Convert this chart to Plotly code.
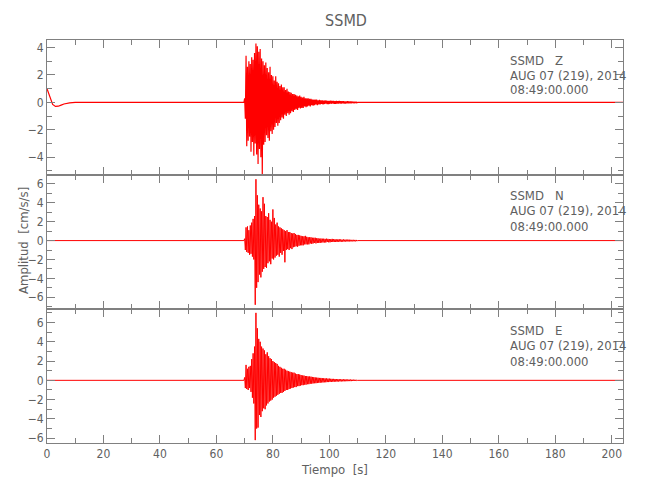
import plotly.graph_objects as go
from plotly.subplots import make_subplots

# ---------------- data ----------------
station = "SSMD"
components = ["Z", "N", "E"]
date_line = "AUG 07 (219), 2014"
time_line = "08:49:00.000"
x_title = "Tiempo  [s]"
y_title = "Amplitud  [cm/s/s]"

event_start = 70.0     # s, first sample of the strong-motion window
sample_dt = 0.25       # s, spacing of the read-off samples
record_end = 204.0     # s

# Z: slow transient at the beginning of the record
z_pre_t = [0, 0.5, 1, 1.5, 2, 3, 4, 5, 6, 8, 10, 69.75]
z_pre_v = [1.0, 0.7, 0.35, 0.05, -0.15, -0.3, -0.28, -0.2, -0.12, -0.04, 0.0, 0.0]

n_pre_t = [0, 69.75]
n_pre_v = [0.0, 0.0]
e_pre_t = [0, 69.75]
e_pre_v = [0.0, 0.0]

z_event = [
    0.3, -1.2, 3.4, -3.2, 2.6, -2.8, 3.0, -2.5,
    2.8, -3.6, 3.3, -2.9, 3.1, -3.9, 3.6, -3.0,
    4.3, -3.8, 4.1, -4.5, 3.7, -3.4, 3.9, -4.0,
    3.2, -5.3, 3.0, -3.1, 2.7, -2.9, 2.9, -2.4,
    2.5, -2.6, 2.2, -2.8, 2.6, -2.1, 2.0, -2.3,
    1.9, -2.0, 1.6, -1.8, 1.9, -1.5, 1.5, -1.7,
    1.4, -1.5, 1.2, -1.3, 1.3, -1.1, 1.1, -1.2,
    1.1, -0.9, 0.9, -1.0, 1.0, -0.8, 0.8, -0.9,
    0.75, -0.8, 0.7, -0.65, 0.6, -0.7, 0.6, -0.55,
    0.55, -0.5, 0.5, -0.55, 0.45, -0.4, 0.5, -0.45,
    0.4, -0.4, 0.35, -0.4, 0.4, -0.3, 0.3, -0.35,
    0.3, -0.3, 0.3, -0.25, 0.25, -0.3, 0.25, -0.2,
    0.2, -0.25, 0.2, -0.2, 0.2, -0.15, 0.2, -0.2,
    0.15, -0.15, 0.18, -0.15, 0.15, -0.12, 0.15, -0.15,
    0.12, -0.12, 0.15, -0.1, 0.12, -0.12, 0.1, -0.12,
    0.1, -0.1, 0.12, -0.1, 0.1, -0.08, 0.1, -0.1,
    0.08, -0.1, 0.1, -0.08, 0.08, -0.08, 0.1, -0.08,
    0.08, -0.08, 0.08, -0.06, 0.08, -0.08, 0.06, -0.08,
    0.06, -0.06, 0.08, -0.06, 0.06, -0.06, 0.06, -0.06,
    0.06, -0.05, 0.05, -0.06, 0.05, -0.05, 0.05, -0.04,
]

n_event = [
    0.2, -1.0, 1.4, -1.2, 1.5, -1.3, 1.1, -1.5,
    1.6, -1.4, 1.9, -1.7, 2.3, -2.0, 2.6, -6.8,
    6.5, -5.0, 4.8, -4.4, 3.8, -3.6, 3.4, -3.9,
    3.1, -3.3, 4.6, -3.0, 3.9, -2.8, 2.6, -2.9,
    2.5, -2.4, 2.9, -2.2, 2.2, -2.5, 2.0, -1.9,
    3.3, -2.0, 2.4, -1.8, 1.7, -1.6, 1.9, -1.5,
    1.5, -1.7, 1.4, -1.3, 1.3, -1.5, 1.2, -1.1,
    1.1, -2.3, 1.0, -1.0, 1.1, -0.9, 0.9, -1.0,
    0.9, -0.8, 0.8, -0.9, 0.75, -0.7, 0.8, -0.65,
    0.7, -0.6, 0.6, -0.65, 0.6, -0.55, 0.55, -0.5,
    0.5, -0.5, 0.45, -0.5, 0.45, -0.4, 0.5, -0.4,
    0.4, -0.4, 0.35, -0.4, 0.35, -0.3, 0.35, -0.35,
    0.3, -0.3, 0.3, -0.25, 0.3, -0.3, 0.25, -0.25,
    0.25, -0.25, 0.2, -0.25, 0.22, -0.2, 0.2, -0.2,
    0.2, -0.2, 0.18, -0.2, 0.2, -0.15, 0.18, -0.18,
    0.16, -0.18, 0.15, -0.15, 0.18, -0.15, 0.15, -0.14,
    0.14, -0.15, 0.12, -0.14, 0.13, -0.12, 0.14, -0.12,
    0.12, -0.12, 0.1, -0.12, 0.12, -0.1, 0.1, -0.1,
    0.1, -0.1, 0.1, -0.08, 0.1, -0.1, 0.08, -0.08,
    0.08, -0.08, 0.08, -0.08, 0.07, -0.08, 0.07, -0.06,
]

e_event = [
    0.3, -0.8, 1.6, -0.9, 1.2, -1.0, 1.4, -0.8,
    1.5, -1.2, 2.2, -1.8, 2.8, -2.4, 3.5, -6.2,
    7.0, -5.0, 5.4, -4.9, 4.3, -3.6, 4.0, -3.8,
    3.5, -3.2, 3.3, -2.9, 3.1, -3.0, 2.7, -2.6,
    2.9, -2.4, 2.5, -2.2, 2.3, -2.1, 2.2, -2.0,
    2.0, -1.8, 1.9, -1.7, 1.8, -1.6, 1.7, -1.5,
    1.5, -1.4, 1.4, -1.3, 1.3, -1.3, 1.2, -1.2,
    1.2, -1.1, 1.1, -1.0, 1.0, -1.0, 0.95, -0.9,
    0.9, -0.85, 0.85, -0.8, 0.8, -0.75, 0.8, -0.7,
    0.7, -0.7, 0.65, -0.6, 0.65, -0.6, 0.6, -0.55,
    0.55, -0.5, 0.5, -0.5, 0.5, -0.45, 0.45, -0.45,
    0.45, -0.4, 0.4, -0.4, 0.4, -0.35, 0.38, -0.35,
    0.35, -0.32, 0.33, -0.3, 0.3, -0.3, 0.28, -0.28,
    0.27, -0.25, 0.25, -0.25, 0.25, -0.22, 0.23, -0.22,
    0.22, -0.2, 0.2, -0.2, 0.2, -0.18, 0.18, -0.18,
    0.18, -0.16, 0.16, -0.16, 0.15, -0.15, 0.15, -0.14,
    0.14, -0.13, 0.13, -0.13, 0.12, -0.12, 0.12, -0.11,
    0.11, -0.11, 0.1, -0.1, 0.1, -0.1, 0.1, -0.09,
    0.09, -0.09, 0.09, -0.08, 0.08, -0.08, 0.08, -0.08,
    0.07, -0.07, 0.07, -0.07, 0.06, -0.06, 0.06, -0.05,
]

tail_t = [110.0, record_end]
tail_v = [0.0, 0.0]

y_ranges = [[-5.3, 4.55], [-7.25, 6.95], [-6.5, 7.4]]
x_ticks = [0, 20, 40, 60, 80, 100, 120, 140, 160, 180, 200]

# ---------------- figure ----------------
FONT = "DejaVu Sans Condensed, Liberation Sans Narrow, sans-serif"
GRAY = "#606060"
AXC = "#808080"
PAGE_OFF = 8  # default body margin of the html page
PL, PR, PT, PB = 47, 623, 40, 443   # plot box in window pixels
W = PR - PL
H = float(PB - PT)


def build(pre_t, pre_v, event):
    t = list(pre_t) + [event_start + i * sample_dt for i in range(len(event))] + list(tail_t)
    v = list(pre_v) + list(event) + list(tail_v)
    return t, v


def py(ypix):
    return (PB - ypix) / H


def px(xpix):
    return (xpix - PL) / float(W)


series = [build(z_pre_t, z_pre_v, z_event),
          build(n_pre_t, n_pre_v, n_event),
          build(e_pre_t, e_pre_v, e_event)]

fig = make_subplots(rows=3, cols=1, shared_xaxes=True, vertical_spacing=0)

domains = [[py(175), 1.0], [py(309), py(175)], [0.0, py(309)]]

for i, (t, v) in enumerate(series):
    fig.add_trace(go.Scatter(x=t, y=v, mode="lines",
                             line=dict(color="#ff0000", width=1.2 if i == 0 else 1),
                             showlegend=False, hoverinfo="skip"),
                  row=i + 1, col=1)
    last = i == 2
    fig.update_xaxes(row=i + 1, col=1, range=[0, record_end], automargin=False,
                     tickvals=x_ticks, ticks="inside", ticklen=8, tickcolor=AXC,
                     showticklabels=last, mirror="allticks", showline=True,
                     linecolor=AXC, linewidth=1, showgrid=False, zeroline=False,
                     minor=dict(dtick=10, ticks="inside", ticklen=5, tickcolor=AXC),
                     tickfont=dict(family=FONT, size=12, color=GRAY))
    fig.update_yaxes(row=i + 1, col=1, range=y_ranges[i], domain=domains[i],
                     automargin=False,
                     dtick=2, ticks="inside", ticklen=8, tickcolor=AXC,
                     mirror="allticks", showline=True, linecolor=AXC, linewidth=1,
                     showgrid=False, zeroline=False,
                     minor=dict(dtick=1, ticks="inside", ticklen=5, tickcolor=AXC),
                     tickfont=dict(family=FONT, size=12, color=GRAY))

fig.update_xaxes(row=3, col=1, title=dict(text=x_title, standoff=4,
                                          font=dict(family=FONT, size=13, color=GRAY)))

# y axis title
fig.add_annotation(x=px(23), y=py(241), xref="paper", yref="paper", textangle=-90,
                   xanchor="center", yanchor="middle", showarrow=False,
                   text=y_title, font=dict(family=FONT, size=13, color=GRAY))

# station / date / time labels
label_rows = [[60, 75, 90], [195, 210, 226], [330, 345, 361]]
nb = "\u00a0"
for i, comp in enumerate(components):
    lines = [f"{station}{nb*3}{comp}", date_line, time_line]
    for line, ypix in zip(lines, label_rows[i]):
        fig.add_annotation(x=px(508), y=py(ypix), xref="paper", yref="paper",
                           xanchor="left", yanchor="middle", align="left", showarrow=False,
                           text=line, font=dict(family=FONT, size=13, color=GRAY))

fig.update_layout(
    width=650, height=500,
    margin=dict(l=PL - PAGE_OFF, r=650 - (PR - PAGE_OFF),
                t=PT - PAGE_OFF, b=500 - (PB - PAGE_OFF)),
    paper_bgcolor="white", plot_bgcolor="white",
    title=dict(text=station, x=(346 - PAGE_OFF) / 650.0, xref="container", xanchor="center",
               y=1 - (20 - PAGE_OFF) / 500.0, yref="container", yanchor="middle",
               font=dict(family=FONT, size=16, color=GRAY)),
)

fig.write_html("out.html")
